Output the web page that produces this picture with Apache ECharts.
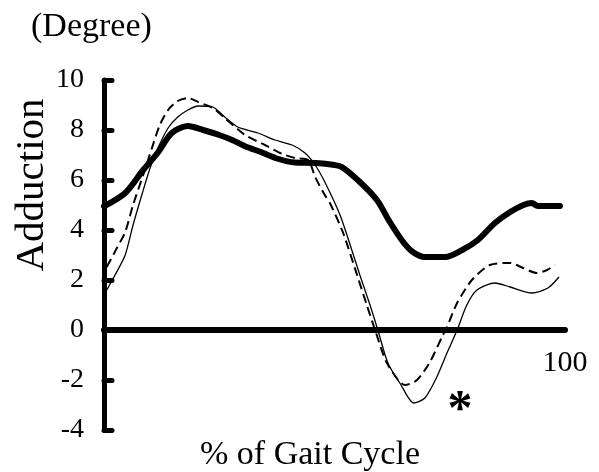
<!DOCTYPE html>
<html lang="en">
<head>
    <meta charset="utf-8">
    <title>Adduction</title>
    <script src="https://cdn.jsdelivr.net/npm/echarts@6/dist/echarts.min.js"></script>
    <style>
        body { margin: 0; background: #fff; }
        #main { width: 599px; height: 472px; }
    </style>
</head>
<body>
<div id="main"></div>
<script type="text/javascript">
    // thick solid line
    var thickX = [0, 4.6, 8.5, 11.7, 14.7, 18.2, 21.5, 25, 27.8, 30.6, 34.3, 37.7, 41.4, 46, 50, 51.6, 55.5, 59.2, 62, 64.9, 67, 69.6, 74, 77.7, 81.1, 84.8, 88.1, 91, 92.8, 94.1, 98.9];
    var thickY = [4.95, 5.48, 6.4, 7.1, 7.88, 8.16, 8.0, 7.8, 7.6, 7.35, 7.1, 6.85, 6.7, 6.68, 6.6, 6.52, 5.92, 5.2, 4.32, 3.52, 3.12, 2.92, 2.92, 3.2, 3.6, 4.28, 4.72, 5.0, 5.08, 4.96, 4.96];

    // thin solid line
    var thinX = [0.6, 2.4, 4.6, 6.3, 8.2, 10, 11.7, 13.9, 16, 18.2, 20.4, 23.6, 26.2, 29, 33.4, 37.1, 40.8, 43.6, 45.8, 47.9, 51.2, 53.4, 55.5, 57.7, 59.4, 61.6, 64.2, 67.2, 69.6, 72.2, 74.4, 76.6, 78.7, 80.9, 84.8, 88.1, 92.8, 96.3, 98.7];
    var thinY = [1.6, 2.2, 3.0, 4.2, 5.4, 6.48, 7.28, 8.08, 8.52, 8.8, 8.96, 8.92, 8.52, 8.12, 7.88, 7.6, 7.4, 7.08, 6.6, 5.92, 4.6, 3.4, 2.2, 1.0, 0, -1.33, -2.13, -2.92, -2.72, -1.88, -0.92, 0, 1.0, 1.6, 1.88, 1.72, 1.48, 1.68, 2.12];

    // dashed line
    var dashX = [0.6, 2.8, 4.6, 6.3, 8.5, 10.4, 12.1, 13.9, 16, 18.2, 20.4, 23.6, 26.2, 30.6, 34.9, 38.6, 41.4, 44.3, 45.8, 47.9, 49, 51.8, 54.9, 57, 58.8, 61.4, 65.3, 67.9, 70.7, 73.3, 74.4, 76.6, 79.8, 83.7, 88.1, 90.9, 93.9, 96.1, 97.8];
    var dashY = [2.52, 3.28, 3.92, 5.0, 6.2, 7.28, 8.2, 8.8, 9.16, 9.28, 9.12, 8.88, 8.48, 7.8, 7.4, 7.05, 6.88, 6.8, 6.12, 5.4, 5.08, 3.92, 2.2, 1.0, 0, -1.33, -2.2, -2.0, -1.28, -0.28, 0.12, 1.08, 2.0, 2.6, 2.68, 2.48, 2.28, 2.4, 2.6];

    var yTicks = [-4, -2, 0, 2, 4, 6, 8, 10];
    var starPoint = [77.2, -2.9];

    function pairs(xs, ys) {
        return xs.map(function (x, i) { return [x, ys[i]]; });
    }

    var font = 'Liberation Serif';
    var gridTop = 80, gridBottom = 42, chartH = 472;
    var yMin = yTicks[0], yMax = yTicks[yTicks.length - 1];
    // move the x axis up to the zero line (labels follow it)
    var zeroOffset = -(0 - yMin) / (yMax - yMin) * (chartH - gridTop - gridBottom);

    var myChart = echarts.init(document.getElementById('main'));

    var option = {
        backgroundColor: '#fff',
        animation: false,
        grid: { left: 104, right: 34, top: gridTop, bottom: gridBottom },
        xAxis: {
            type: 'value',
            min: 0,
            max: 100,
            interval: 100,
            offset: zeroOffset,
            axisLine: { onZero: false, lineStyle: { color: '#000', width: 6, cap: 'round' } },
            axisTick: { show: false },
            splitLine: { show: false },
            axisLabel: {
                color: '#000', fontFamily: font, fontSize: 30, margin: 18,
                formatter: function (v) { return v === 100 ? '100' : ''; }
            }
        },
        yAxis: {
            type: 'value',
            min: yMin,
            max: yMax,
            interval: 2,
            axisLine: { show: true, onZero: false, lineStyle: { color: '#000', width: 5, cap: 'round' } },
            axisTick: { show: true, inside: true, length: 8, lineStyle: { color: '#000', width: 5, cap: 'round' } },
            splitLine: { show: false },
            axisLabel: { color: '#000', fontFamily: font, fontSize: 28, margin: 20 }
        },
        graphic: [
            { type: 'text', x: 31, y: 27, style: { text: '(Degree)', font: '34px "Liberation Serif"', fill: '#000', textVerticalAlign: 'middle' } },
            { type: 'text', x: 32, y: 185, rotation: Math.PI / 2, style: { text: 'Adduction', font: '41px "Liberation Serif"', fill: '#000', textAlign: 'center', textVerticalAlign: 'middle' } },
            { type: 'text', x: 310, y: 455, style: { text: '% of Gait Cycle', font: '34px "Liberation Serif"', fill: '#000', textAlign: 'center', textVerticalAlign: 'middle' } }
        ],
        series: [{
            type: 'line',
            data: pairs(thinX, thinY),
            showSymbol: false,
            smooth: 0.25,
            lineStyle: { color: '#000', width: 1.3 },
            z: 2
        }, {
            type: 'line',
            data: pairs(dashX, dashY),
            showSymbol: false,
            smooth: 0.25,
            lineStyle: { color: '#000', width: 2, type: [9, 5] },
            z: 3,
            markPoint: {
                symbol: 'circle',
                symbolSize: 1,
                itemStyle: { color: 'rgba(0,0,0,0)' },
                data: [{ coord: starPoint }],
                label: { show: true, position: 'inside', formatter: '*', color: '#000', fontFamily: font, fontSize: 50, fontWeight: 'bold', offset: [0, 9] }
            }
        }, {
            type: 'line',
            data: pairs(thickX, thickY),
            showSymbol: false,
            smooth: 0.3,
            lineStyle: { color: '#000', width: 6, cap: 'round' },
            z: 4
        }]
    };

    myChart.setOption(option);
</script>
</body>
</html>
